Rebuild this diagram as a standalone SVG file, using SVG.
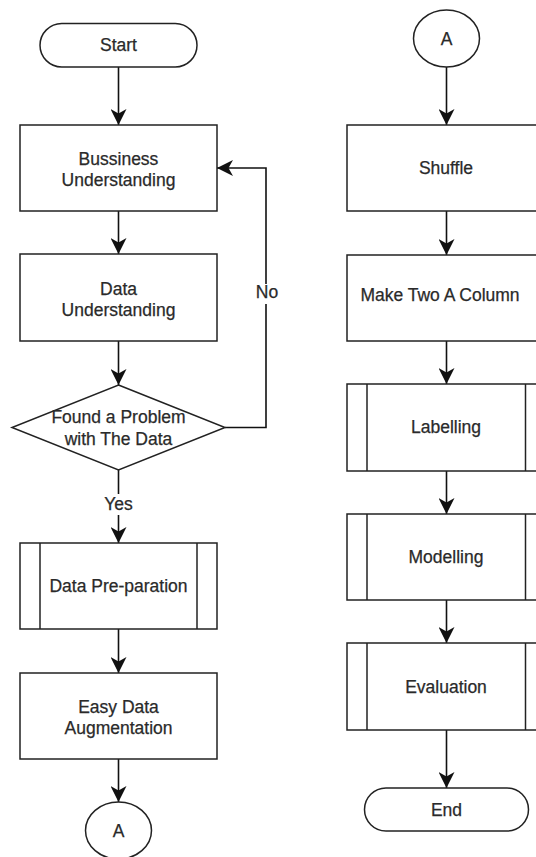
<svg xmlns="http://www.w3.org/2000/svg" width="536" height="857" viewBox="0 0 536 857">
<style>
.s{fill:#fff;stroke:#222;stroke-width:1.5}
.t{font-family:"Liberation Sans",Arial,sans-serif;font-size:17.5px;fill:#2a2a2a;text-anchor:middle;stroke:#2a2a2a;stroke-width:0.25}
.c{fill:none;stroke:#111;stroke-width:1.6}
.lb{fill:#fff}
</style>
<defs>
<marker id="ah" markerUnits="userSpaceOnUse" markerWidth="17" markerHeight="16" refX="16" refY="8" orient="auto" viewBox="0 0 17 16">
<path d="M0,0 L16,8 L0,16 L4.5,8 Z" fill="#111"/>
</marker>
</defs>
<rect width="536" height="857" fill="#fff"/>
<g id="connectors">
<line class="c" x1="118.5" y1="67" x2="118.5" y2="125" marker-end="url(#ah)"/>
<line class="c" x1="118.5" y1="211" x2="118.5" y2="254" marker-end="url(#ah)"/>
<line class="c" x1="118.5" y1="341" x2="118.5" y2="385" marker-end="url(#ah)"/>
<polyline class="c" points="225,427.5 266,427.5 266,168 217,168" marker-end="url(#ah)"/>
<line class="c" x1="118.5" y1="470" x2="118.5" y2="543" marker-end="url(#ah)"/>
<line class="c" x1="118.5" y1="629" x2="118.5" y2="673" marker-end="url(#ah)"/>
<line class="c" x1="118.5" y1="759" x2="118.5" y2="802" marker-end="url(#ah)"/>
<line class="c" x1="446.5" y1="67" x2="446.5" y2="125" marker-end="url(#ah)"/>
<line class="c" x1="446.5" y1="211" x2="446.5" y2="255" marker-end="url(#ah)"/>
<line class="c" x1="446.5" y1="341" x2="446.5" y2="384" marker-end="url(#ah)"/>
<line class="c" x1="446.5" y1="471" x2="446.5" y2="514" marker-end="url(#ah)"/>
<line class="c" x1="446.5" y1="600" x2="446.5" y2="643" marker-end="url(#ah)"/>
<line class="c" x1="446.5" y1="730" x2="446.5" y2="788" marker-end="url(#ah)"/>
<rect class="lb" x="254" y="284" width="26" height="20"/>
<text class="t" x="267" y="298">No</text>
<rect class="lb" x="100" y="494" width="37" height="21"/>
<text class="t" x="118.5" y="510">Yes</text>
</g>
<g id="start">
<rect class="s" x="40" y="23.5" width="157" height="43.5" rx="21.75"/>
<text class="t" x="118.5" y="51">Start</text>
</g>
<g id="business">
<rect class="s" x="20" y="125" width="197" height="86"/>
<text class="t" x="118.5" y="165">Bussiness</text>
<text class="t" x="118.5" y="186">Understanding</text>
</g>
<g id="data-understanding">
<rect class="s" x="20" y="254" width="197" height="87"/>
<text class="t" x="118.5" y="294.5">Data</text>
<text class="t" x="118.5" y="315.5">Understanding</text>
</g>
<g id="decision">
<polygon class="s" points="118.5,385 225,427.5 118.5,470 12,427.5"/>
<text class="t" x="118.5" y="423">Found a Problem</text>
<text class="t" x="118.5" y="445">with The Data</text>
</g>
<g id="preparation">
<rect class="s" x="20" y="543" width="197" height="86"/>
<line class="s" x1="40" y1="543" x2="40" y2="629"/>
<line class="s" x1="197" y1="543" x2="197" y2="629"/>
<text class="t" x="118.5" y="592">Data Pre-paration</text>
</g>
<g id="augmentation">
<rect class="s" x="20" y="673" width="197" height="86"/>
<text class="t" x="118.5" y="713">Easy Data</text>
<text class="t" x="118.5" y="734">Augmentation</text>
</g>
<g id="connector-a-out">
<ellipse class="s" cx="118.5" cy="830.5" rx="33" ry="28.5"/>
<text class="t" x="118.5" y="837">A</text>
</g>
<g id="connector-a-in">
<ellipse class="s" cx="446.5" cy="38.5" rx="33" ry="28.5"/>
<text class="t" x="446.5" y="45">A</text>
</g>
<g id="shuffle">
<rect class="s" x="347" y="125" width="198" height="86"/>
<text class="t" x="446" y="174">Shuffle</text>
</g>
<g id="two-column">
<rect class="s" x="347" y="255" width="198" height="86"/>
<text class="t" x="440" y="301">Make Two A Column</text>
</g>
<g id="labelling">
<rect class="s" x="347" y="384" width="198" height="87"/>
<line class="s" x1="367" y1="384" x2="367" y2="471"/>
<line class="s" x1="525.5" y1="384" x2="525.5" y2="471"/>
<text class="t" x="446" y="433">Labelling</text>
</g>
<g id="modelling">
<rect class="s" x="347" y="514" width="198" height="86"/>
<line class="s" x1="367" y1="514" x2="367" y2="600"/>
<line class="s" x1="525.5" y1="514" x2="525.5" y2="600"/>
<text class="t" x="446" y="563">Modelling</text>
</g>
<g id="evaluation">
<rect class="s" x="347" y="643" width="198" height="87"/>
<line class="s" x1="367" y1="643" x2="367" y2="730"/>
<line class="s" x1="525.5" y1="643" x2="525.5" y2="730"/>
<text class="t" x="446" y="692.5">Evaluation</text>
</g>
<g id="end">
<rect class="s" x="364.5" y="788" width="164" height="43" rx="21.5"/>
<text class="t" x="446.5" y="815.5">End</text>
</g>
</svg>
